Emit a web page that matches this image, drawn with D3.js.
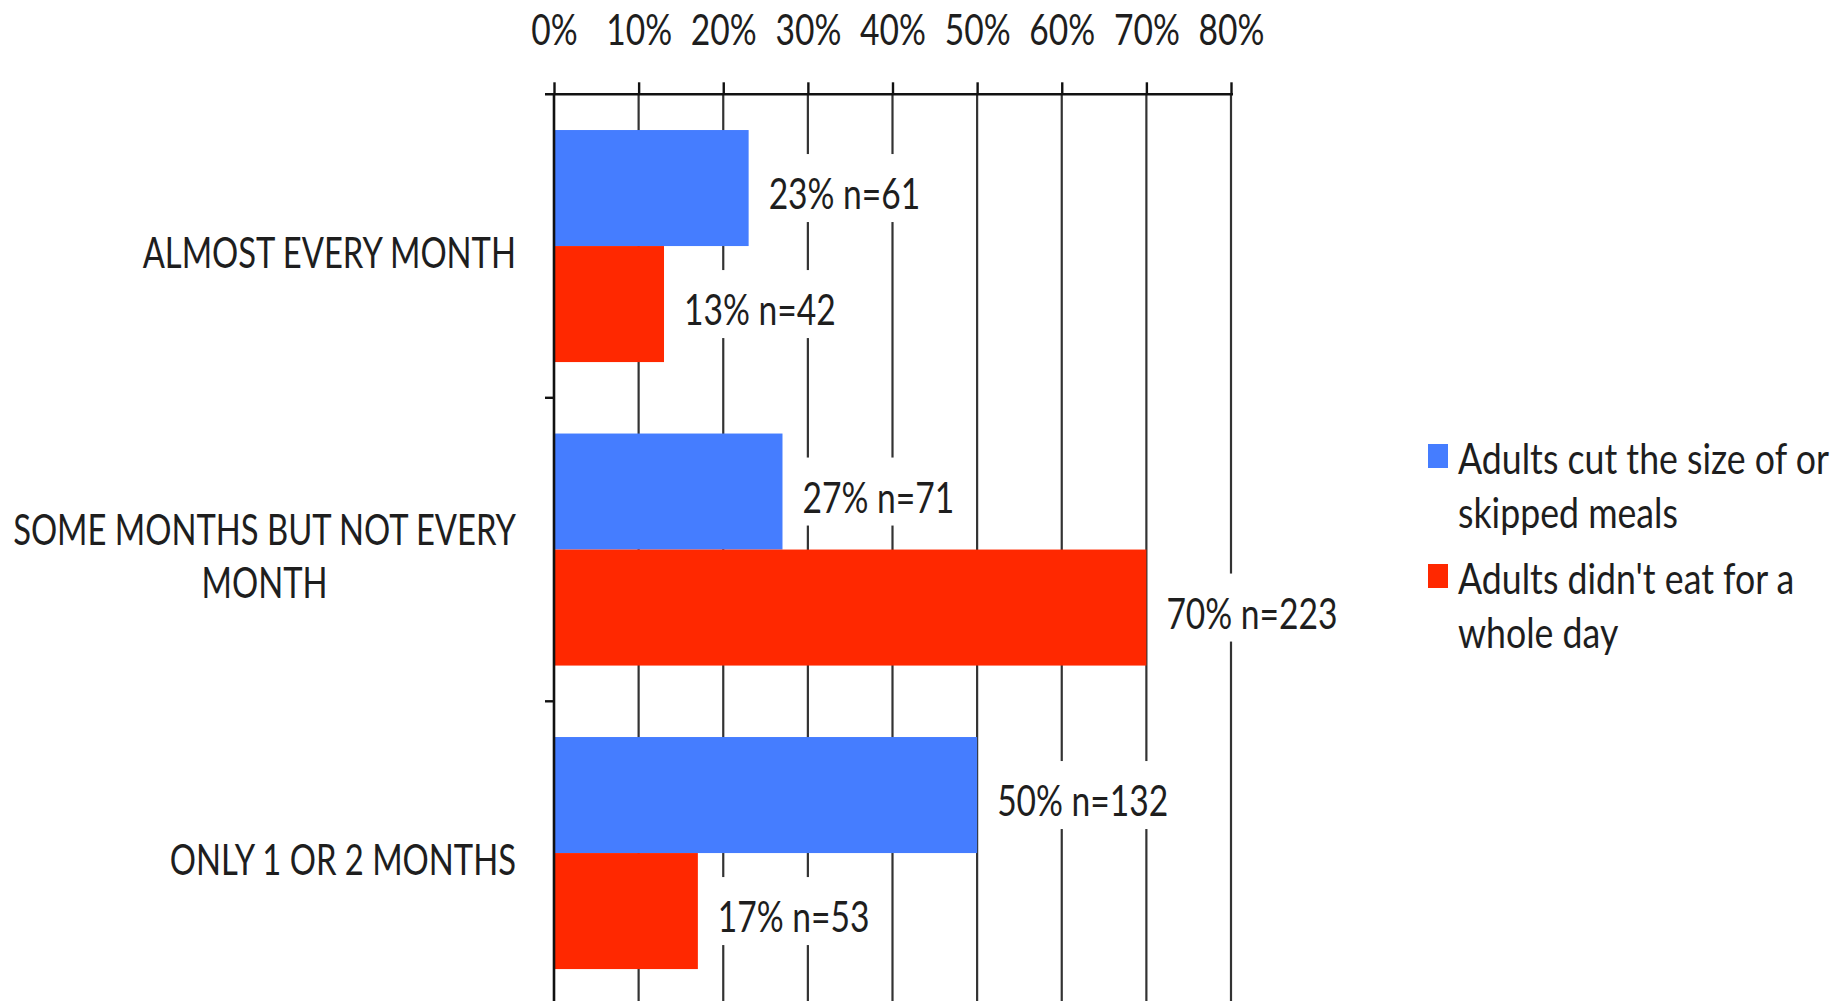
<!DOCTYPE html>
<html>
<head>
<meta charset="utf-8">
<script src="https://cdn.jsdelivr.net/npm/d3@7/dist/d3.min.js"></script>
<style>
  html, body { margin: 0; padding: 0; background: #ffffff; }
  svg { display: block; }
</style>
</head>
<body>
<script>
// Frequency of food-insecurity episodes, by type of coping behaviour
const categories = ["ALMOST EVERY MONTH", "SOME MONTHS BUT NOT EVERY MONTH", "ONLY 1 OR 2 MONTHS"];
const seriesKeys = ["cut", "noEat"];
const seriesNames = ["Adults cut the size of or skipped meals", "Adults didn't eat for a whole day"];
const seriesColors = ["#457dff", "#ff2800"];
const cutMealsPct = [23, 27, 50];
const cutMealsN = [61, 71, 132];
const noEatPct = [13, 70, 17];
const noEatN = [42, 223, 53];
const xTicks = [0, 10, 20, 30, 40, 50, 60, 70, 80];

const rows = categories.map((c, i) => ({
  category: c,
  values: [
    { key: "cut", pct: cutMealsPct[i], n: cutMealsN[i] },
    { key: "noEat", pct: noEatPct[i], n: noEatN[i] }
  ]
}));

const W = 1848, H = 1001;
const FONT = "Lato, 'Open Sans', sans-serif";
const FS = 42;        // font size
const SX = 0.8;       // horizontal condensing of axis and value text
const SX_CAT = 0.78;  // category labels
const SX_LEG = 0.85;  // legend labels
const TXT = "#1e1e1e";

const svg = d3.select("body").append("svg")
  .attr("width", W).attr("height", H)
  .attr("viewBox", `0 0 ${W} ${H}`);

svg.append("rect").attr("width", W).attr("height", H).attr("fill", "#fff");

const axisY = 94.3;
const bandStep = 303.5;

const x = d3.scaleLinear().domain([0, 80]).range([554, 1231]);
const y = d3.scaleBand().domain(categories).range([axisY, axisY + bandStep * categories.length]);
const ys = d3.scaleBand().domain(seriesKeys).range([0, y.bandwidth()]).paddingInner(0).paddingOuter(0.308);
const color = d3.scaleOrdinal().domain(seriesKeys).range(seriesColors);

// helper: condensed text anchored at (tx, ty)
function addText(parent, str, tx, ty, anchor, sx = SX) {
  return parent.append("text")
    .attr("transform", `translate(${tx},${ty}) scale(${sx},1)`)
    .attr("text-anchor", anchor)
    .attr("font-family", FONT)
    .attr("font-size", FS)
    .attr("fill", TXT)
    .text(str);
}

// measuring text (in rendered, condensed pixels)
const probe = svg.append("text").attr("font-family", FONT).attr("font-size", FS).attr("visibility", "hidden");
function measure(str, sx = SX) {
  probe.text(str);
  return probe.node().getComputedTextLength() * sx;
}
function wrap(str, maxW, sx = SX) {
  const words = str.split(" ");
  const lines = [];
  let cur = "";
  words.forEach(w => {
    const t = cur ? cur + " " + w : w;
    if (cur && measure(t, sx) > maxW) { lines.push(cur); cur = w; }
    else cur = t;
  });
  if (cur) lines.push(cur);
  return lines;
}

// vertical gridlines
svg.append("g").selectAll("line")
  .data(xTicks.slice(1))
  .join("line")
  .attr("x1", d => x(d)).attr("x2", d => x(d))
  .attr("y1", axisY).attr("y2", H + 5)
  .attr("stroke", "#333").attr("stroke-width", 2.2);

// top axis with percentage labels
const xAxis = d3.axisTop(x)
  .tickValues(xTicks)
  .tickFormat(d => d + "%")
  .tickSize(12)
  .tickPadding(37);

const gx = svg.append("g")
  .attr("transform", `translate(0,${axisY})`)
  .call(xAxis);
gx.select(".domain").remove();
gx.selectAll(".tick line").attr("stroke", "#111").attr("stroke-width", 2.4);
gx.selectAll(".tick text")
  .attr("font-family", FONT)
  .attr("font-size", FS)
  .attr("fill", TXT)
  .attr("transform", `scale(${SX},1)`);

// axis baseline (extends slightly left of zero)
svg.append("line")
  .attr("x1", x(0) - 9).attr("x2", x(80) + 2)
  .attr("y1", axisY).attr("y2", axisY)
  .attr("stroke", "#111").attr("stroke-width", 2.6);

// bars
const groups = svg.append("g").selectAll("g")
  .data(rows)
  .join("g")
  .attr("transform", d => `translate(0,${y(d.category)})`);

groups.selectAll("rect")
  .data(d => d.values)
  .join("rect")
  .attr("x", x(0))
  .attr("y", d => ys(d.key))
  .attr("width", d => x(d.pct) - x(0))
  .attr("height", ys.bandwidth())
  .attr("fill", d => color(d.key));

// value labels with white backing
groups.each(function (row) {
  const g = d3.select(this);
  row.values.forEach(v => {
    const label = `${v.pct}% n=${v.n}`;
    const cy = ys(v.key) + ys.bandwidth() / 2;
    const lx = x(v.pct) + 20;
    const w = measure(label);
    g.append("rect")
      .attr("x", lx - 8).attr("y", cy - 34)
      .attr("width", w + 16).attr("height", 68)
      .attr("fill", "#fff");
    addText(g, label, lx, cy + 21, "start");
  });
});

// left axis with boundary ticks
svg.append("line")
  .attr("x1", x(0)).attr("x2", x(0))
  .attr("y1", axisY).attr("y2", H + 5)
  .attr("stroke", "#111").attr("stroke-width", 2.6);
svg.append("g").selectAll("line")
  .data(categories.slice(1))
  .join("line")
  .attr("x1", x(0) - 9).attr("x2", x(0))
  .attr("y1", d => y(d)).attr("y2", d => y(d))
  .attr("stroke", "#111").attr("stroke-width", 2.4);

// category labels, wrapped and centred line by line
const catRight = 516, lineH = 53;
categories.forEach(c => {
  const lines = wrap(c, 540, SX_CAT);
  const maxW = d3.max(lines, l => measure(l, SX_CAT));
  const cx = catRight - maxW / 2;
  const mid = y(c) + y.bandwidth() / 2 + 7;
  lines.forEach((l, i) => {
    const capCenter = mid - (lineH / 2) * (lines.length - 1) + i * lineH;
    addText(svg, l, cx, capCenter + 15, "middle", SX_CAT);
  });
});

// legend
const legend = svg.append("g");
const legX = 1428, legTextX = 1458, legTop = [444, 564];
seriesKeys.forEach((k, i) => {
  legend.append("rect")
    .attr("x", legX).attr("y", legTop[i])
    .attr("width", 20).attr("height", 24)
    .attr("fill", color(k));
  wrap(seriesNames[i], 395, SX_LEG).forEach((l, j) => {
    addText(legend, l, legTextX, legTop[i] + 30 + j * 54, "start", SX_LEG);
  });
});

probe.remove();
</script>
</body>
</html>
